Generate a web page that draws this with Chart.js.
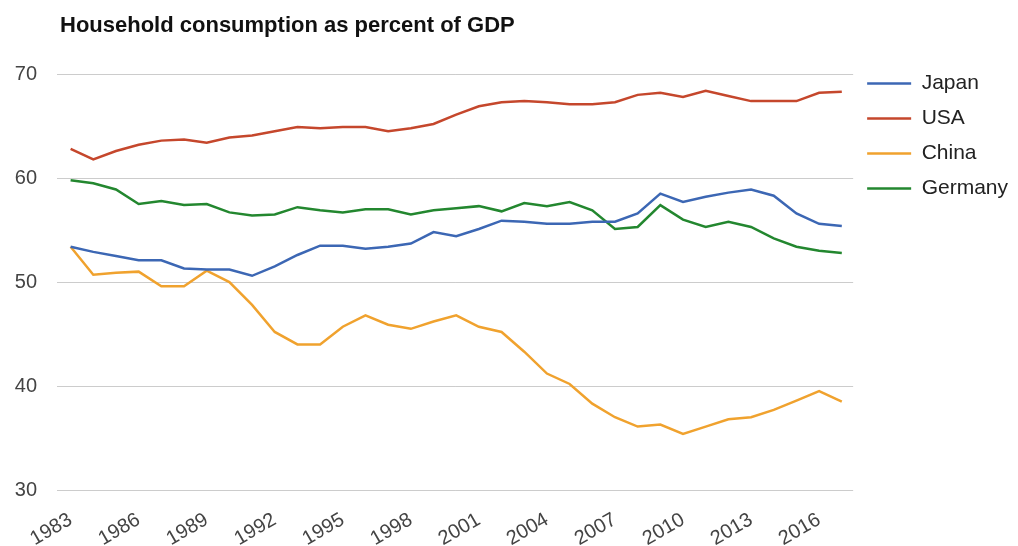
<!DOCTYPE html>
<html>
<head>
<meta charset="utf-8">
<script src="https://cdn.jsdelivr.net/npm/chart.js@4/dist/chart.umd.min.js"></script>
<style>
  html, body { margin: 0; padding: 0; background: #fff; }
  #wrap { position: relative; width: 1018px; height: 546px; }
  #title {
    position: absolute; left: 60px; top: 13px;
    font: bold 22px "Liberation Sans", Arial, sans-serif;
    color: #111; line-height: 24px;
  }
</style>
</head>
<body>
<div id="wrap">
  <div id="title">Household consumption as percent of GDP</div>
  <canvas id="chart" width="1018" height="546"></canvas>
</div>
<script>
const years = [
  1983, 1984, 1985, 1986, 1987, 1988, 1989, 1990, 1991, 1992, 1993, 1994,
  1995, 1996, 1997, 1998, 1999, 2000, 2001, 2002, 2003, 2004, 2005, 2006,
  2007, 2008, 2009, 2010, 2011, 2012, 2013, 2014, 2015, 2016, 2017
];
const tickYears = [1983, 1986, 1989, 1992, 1995, 1998, 2001, 2004, 2007, 2010, 2013, 2016];
const yTicks = [30, 40, 50, 60, 70];

const japan = [
  53.4, 52.9, 52.5, 52.1, 52.1, 51.3, 51.2, 51.2, 50.6, 51.5, 52.6, 53.5,
  53.5, 53.2, 53.4, 53.7, 54.8, 54.4, 55.1, 55.9, 55.8, 55.6, 55.6, 55.8,
  55.8, 56.6, 58.5, 57.7, 58.2, 58.6, 58.9, 58.3, 56.6, 55.6, 55.4
];
const usa = [
  62.8, 61.8, 62.6, 63.2, 63.6, 63.7, 63.4, 63.9, 64.1, 64.5, 64.9, 64.8,
  64.9, 64.9, 64.5, 64.8, 65.2, 66.1, 66.9, 67.3, 67.4, 67.3, 67.1, 67.1,
  67.3, 68.0, 68.2, 67.8, 68.4, 67.9, 67.4, 67.4, 67.4, 68.2, 68.3
];
const china = [
  53.4, 50.7, 50.9, 51.0, 49.6, 49.6, 51.1, 50.0, 47.8, 45.2, 44.0, 44.0,
  45.7, 46.8, 45.9, 45.5, 46.2, 46.8, 45.7, 45.2, 43.3, 41.2, 40.2, 38.3,
  37.0, 36.1, 36.3, 35.4, 36.1, 36.8, 37.0, 37.7, 38.6, 39.5, 38.5
];
const germany = [
  59.8, 59.5, 58.9, 57.5, 57.8, 57.4, 57.5, 56.7, 56.4, 56.5, 57.2, 56.9,
  56.7, 57.0, 57.0, 56.5, 56.9, 57.1, 57.3, 56.8, 57.6, 57.3, 57.7, 56.9,
  55.1, 55.3, 57.4, 56.0, 55.3, 55.8, 55.3, 54.2, 53.4, 53.0, 52.8
];

const FONT = '"Liberation Sans", Arial, sans-serif';

function series(label, values, color) {
  return {
    label: label,
    data: years.map((yr, i) => ({ x: yr, y: values[i] })),
    borderColor: color,
    backgroundColor: color,
    borderWidth: 2.5,
    pointRadius: 0,
    tension: 0,
  };
}

const config = {
  type: 'line',
  data: {
    datasets: [
      series('Japan', japan, '#3c67b4'),
      series('USA', usa, '#c5472c'),
      series('China', china, '#f0a22e'),
      series('Germany', germany, '#23872f'),
    ]
  },
  options: {
    responsive: false,
    animation: false,
    layout: {
      padding: { left: 14, top: 59, right: 0, bottom: 0 }
    },
    scales: {
      x: {
        type: 'linear',
        min: 1982.4,
        max: 2017.5,
        afterBuildTicks: scale => {
          scale.ticks = tickYears.map(v => ({ value: v }));
        },
        // rotated labels may hang past the left edge of the plot
        afterFit: scale => {
          scale.paddingLeft = 0;
          scale.height = 56;
        },
        ticks: {
          minRotation: 30,
          maxRotation: 30,
          padding: 18,
          color: '#444',
          font: { family: FONT, size: 20 },
          callback: v => String(v),
        },
        grid: { display: false, drawTicks: false },
        border: { display: false },
      },
      y: {
        min: 30,
        max: 71.45,
        afterBuildTicks: scale => {
          scale.ticks = yTicks.map(v => ({ value: v }));
        },
        afterFit: scale => {
          scale.width = 43;
        },
        ticks: {
          padding: 20,
          color: '#444',
          font: { family: FONT, size: 20 },
        },
        grid: { color: '#cccccc', lineWidth: 1, drawTicks: false },
        border: { display: false },
      }
    },
    plugins: {
      title: { display: false },
      tooltip: { enabled: false },
      legend: {
        position: 'right',
        align: 'start',
        labels: {
          usePointStyle: true,
          pointStyle: 'line',
          pointStyleWidth: 44,
          boxHeight: 20,
          padding: 14,
          color: '#222',
          font: { family: FONT, size: 21 },
        }
      }
    }
  }
};

const chart = new Chart(document.getElementById('chart'), config);
</script>
</body>
</html>
